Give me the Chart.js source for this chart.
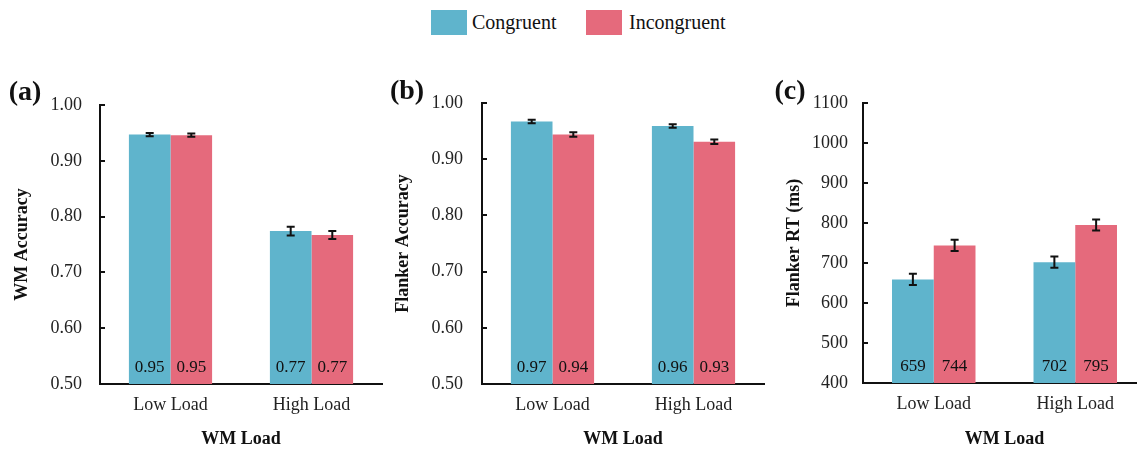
<!DOCTYPE html>
<html>
<head>
<meta charset="utf-8">
<script src="https://cdn.jsdelivr.net/npm/chart.js@4.4.1/dist/chart.umd.min.js"></script>
<style>
  body { margin: 0; background: #fff; overflow: hidden; width: 1137px; height: 450px; position: relative; font-family: "Liberation Serif", serif; }
  canvas { position: absolute; top: 0; }
  .swatch { position: absolute; top: 10px; width: 36px; height: 25px; }
  .leg { position: absolute; top: 9px; font-size: 20px; line-height: 26px; color: #111; }
</style>
</head>
<body>
<div class="swatch" style="left:431px;background:#5fb4cc"></div>
<span class="leg" style="left:472px">Congruent</span>
<div class="swatch" style="left:586px;background:#e56a7c"></div>
<span class="leg" style="left:629px">Incongruent</span>

<canvas id="chartA" width="385" height="450" style="left:0px"></canvas>
<canvas id="chartB" width="382" height="450" style="left:385px"></canvas>
<canvas id="chartC" width="382" height="450" style="left:767px"></canvas>

<script>
const loads = ["Low Load", "High Load"];

// (a) WM accuracy
const wmAccCong = [0.947, 0.774];
const wmAccIncong = [0.946, 0.767];
const wmAccCongErr = [0.003, 0.008];
const wmAccIncongErr = [0.003, 0.007];

// (b) flanker accuracy
const flAccCong = [0.967, 0.959];
const flAccIncong = [0.944, 0.931];
const flAccCongErr = [0.003, 0.003];
const flAccIncongErr = [0.004, 0.004];

// (c) flanker RT
const flRtCong = [659, 702];
const flRtIncong = [744, 795];
const flRtCongErr = [14, 14];
const flRtIncongErr = [14, 14];

const blue = "#5fb4cc";
const red = "#e56a7c";
const serif = "'Liberation Serif', 'Times New Roman', serif";

// error bars, value labels inside bars, inward y ticks, panel letter
const extras = {
  id: "extras",
  afterDatasetsDraw(chart, args, opts) {
    const ctx = chart.ctx;
    const y = chart.scales.y;
    const area = chart.chartArea;
    ctx.save();
    chart.data.datasets.forEach((ds, i) => {
      const meta = chart.getDatasetMeta(i);
      meta.data.forEach((bar, j) => {
        const v = ds.data[j];
        const e = ds.err[j];
        const top = y.getPixelForValue(v + e);
        const bot = y.getPixelForValue(v - e);
        ctx.strokeStyle = "#111";
        ctx.lineWidth = 2;
        ctx.beginPath();
        ctx.moveTo(bar.x, top);
        ctx.lineTo(bar.x, bot);
        ctx.moveTo(bar.x - 4, top);
        ctx.lineTo(bar.x + 4, top);
        ctx.moveTo(bar.x - 4, bot);
        ctx.lineTo(bar.x + 4, bot);
        ctx.stroke();

        ctx.fillStyle = "#111";
        ctx.font = "17px " + serif;
        ctx.textAlign = "center";
        ctx.textBaseline = "middle";
        ctx.fillText(v.toFixed(opts.digits), bar.x, area.bottom - 16);
      });
    });

    ctx.strokeStyle = "#111";
    ctx.lineWidth = 2;
    y.ticks.forEach((t) => {
      const py = Math.round(y.getPixelForValue(t.value));
      ctx.beginPath();
      ctx.moveTo(area.left, py);
      ctx.lineTo(area.left + 5, py);
      ctx.stroke();
    });

    ctx.fillStyle = "#111";
    ctx.font = "bold 28px " + serif;
    ctx.textAlign = "center";
    ctx.textBaseline = "middle";
    ctx.fillText(opts.letter, opts.letterX, opts.letterY);
    ctx.restore();
  },
};

function makeChart(id, cong, incong, congErr, incongErr, o) {
  return new Chart(document.getElementById(id), {
    type: "bar",
    data: {
      labels: loads,
      datasets: [
        { label: "Congruent", data: cong, err: congErr, backgroundColor: blue },
        { label: "Incongruent", data: incong, err: incongErr, backgroundColor: red },
      ],
    },
    options: {
      responsive: false,
      animation: false,
      categoryPercentage: 0.59,
      barPercentage: 1.0,
      layout: { padding: { top: o.top, right: 3, bottom: 0, left: 0 } },
      plugins: {
        legend: { display: false },
        tooltip: { enabled: false },
        extras: { letter: o.letter, letterX: o.letterX, letterY: o.letterY, digits: o.digits },
      },
      scales: {
        x: {
          grid: { display: false, drawTicks: false },
          border: { display: true, color: "#111", width: 2 },
          ticks: { color: "#222", font: { family: serif, size: 18 }, padding: 10 },
          title: {
            display: true,
            text: "WM Load",
            color: "#111",
            font: { family: serif, size: 18, weight: "bold" },
            padding: { top: 0, bottom: 0 },
          },
          afterFit: (s) => { s.height = o.xHeight; },
        },
        y: {
          min: o.min,
          max: o.max,
          grid: { display: false, drawTicks: false },
          border: { display: true, color: "#111", width: 2 },
          ticks: {
            stepSize: o.step,
            color: "#222",
            padding: o.tickPad,
            font: { family: serif, size: 18 },
            callback: (v) => v.toFixed(o.digits),
          },
          title: {
            display: true,
            text: o.yTitle,
            color: "#111",
            font: { family: serif, size: 18, weight: "bold" },
            padding: { top: o.titlePad, bottom: 0 },
          },
          afterFit: (s) => { s.width = o.yWidth; },
        },
      },
    },
    plugins: [extras],
  });
}

makeChart("chartA", wmAccCong, wmAccIncong, wmAccCongErr, wmAccIncongErr, {
  top: 105, xHeight: 66, yWidth: 100, min: 0.5, max: 1.0, step: 0.1, digits: 2,
  tickPad: 18, titlePad: 12, yTitle: "WM Accuracy", letter: "(a)", letterX: 25, letterY: 93,
});

makeChart("chartB", flAccCong, flAccIncong, flAccCongErr, flAccIncongErr, {
  top: 103, xHeight: 66, yWidth: 97, min: 0.5, max: 1.0, step: 0.1, digits: 2,
  tickPad: 19, titlePad: 8, yTitle: "Flanker Accuracy", letter: "(b)", letterX: 22, letterY: 92,
});

makeChart("chartC", flRtCong, flRtIncong, flRtCongErr, flRtIncongErr, {
  top: 103, xHeight: 67, yWidth: 96, min: 400, max: 1100, step: 100, digits: 0,
  tickPad: 15, titlePad: 17, yTitle: "Flanker RT (ms)", letter: "(c)", letterX: 23, letterY: 92,
});
</script>
</body>
</html>
